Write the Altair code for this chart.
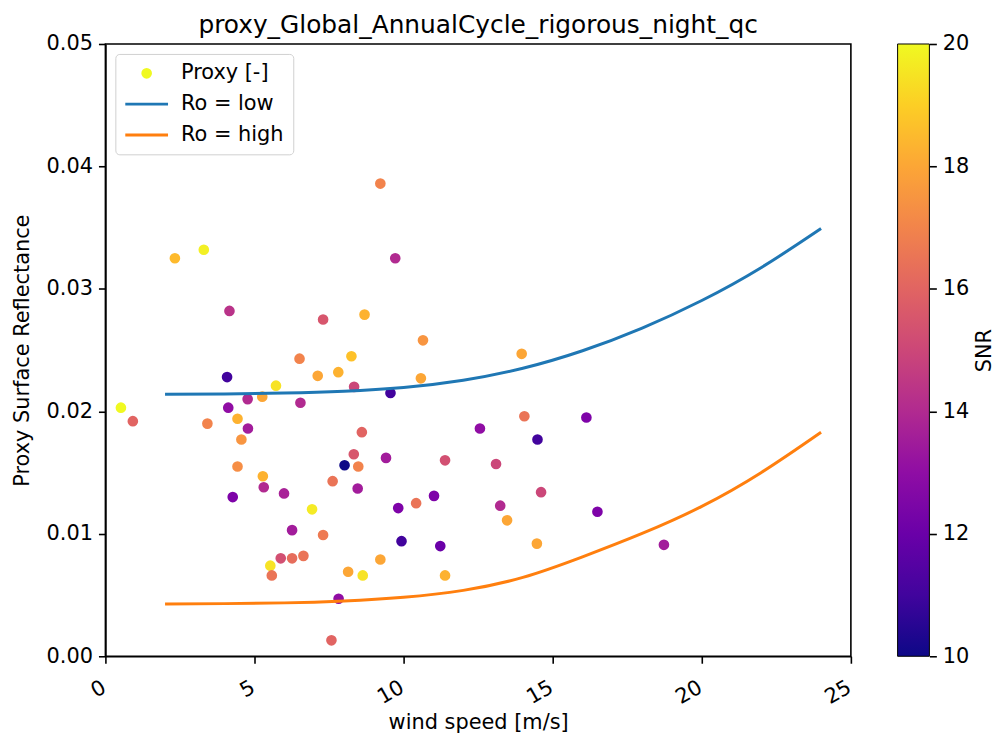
import altair as alt
import pandas as pd

FONT = "DejaVu Sans"
FS = 21

# scatter data (wind speed, proxy reflectance, SNR)
wind = [0.52, 0.92, 2.33, 3.30, 3.42, 4.16, 4.08, 4.12, 4.77, 5.26,
        5.72, 4.43, 4.78, 4.56, 4.43, 5.28, 5.31, 5.99, 4.27, 6.51,
        6.54, 7.12, 7.30, 7.81, 8.25, 8.34, 8.69, 9.22, 9.72, 10.65,
        10.58, 9.56, 13.96, 14.05, 12.56, 14.49, 16.13, 8.60, 8.33, 8.48,
        8.02, 9.41, 11.39, 13.10, 7.62, 8.46, 11.02, 14.61, 9.82, 10.42,
        13.24, 13.47, 16.50, 6.93, 6.26, 7.30, 9.93, 11.23, 14.47, 18.73,
        5.88, 6.26, 6.64, 5.53, 5.58, 8.14, 8.63, 9.22, 11.39, 7.82, 7.58]
proxy = [0.0203, 0.0192, 0.0325, 0.0332, 0.0190, 0.0282, 0.0228, 0.0203, 0.0210, 0.0212,
         0.0221, 0.0194, 0.0186, 0.0177, 0.0155, 0.0147, 0.0138, 0.0133, 0.0130, 0.0243,
         0.0207, 0.0229, 0.0275, 0.0232, 0.0245, 0.0220, 0.0279, 0.0386, 0.0325, 0.0258,
         0.0227, 0.0215, 0.0247, 0.0196, 0.0186, 0.0177, 0.0195, 0.0183, 0.0165, 0.0155,
         0.0156, 0.0162, 0.0160, 0.0157, 0.0143, 0.0137, 0.0131, 0.0134, 0.0121, 0.0125,
         0.0123, 0.0111, 0.0118, 0.0120, 0.0103, 0.0099, 0.0094, 0.0090, 0.0092, 0.0091,
         0.0080, 0.0080, 0.0082, 0.0074, 0.0066, 0.0069, 0.0066, 0.0079, 0.0066, 0.0047, 0.0013]
snr = [20.0, 16.0, 18.5, 19.8, 17.0, 14.3, 11.0, 13.0, 14.0, 18.0,
       19.5, 18.3, 13.5, 17.5, 17.3, 18.3, 14.0, 13.7, 12.5, 17.0,
       14.0, 18.0, 15.5, 18.3, 18.7, 15.0, 18.3, 17.0, 14.0, 17.5,
       18.0, 11.0, 18.0, 16.5, 13.0, 11.0, 12.5, 16.0, 15.5, 17.0,
       10.0, 13.5, 15.3, 15.0, 16.5, 13.5, 12.5, 15.0, 12.5, 16.5,
       14.0, 18.0, 12.5, 19.7, 13.5, 16.7, 11.0, 12.0, 18.0, 13.5,
       15.3, 16.3, 16.5, 19.5, 16.5, 18.0, 19.5, 18.0, 18.3, 13.0, 16.0]

# model curves
line_wind = [2, 4, 6, 8, 10, 12, 14, 16, 18, 20, 22, 24]
ro_low = [0.02140, 0.02142, 0.02150, 0.02165, 0.02195, 0.02254,
          0.02352, 0.02495, 0.02680, 0.02905, 0.03175, 0.03493]
ro_high = [0.00427, 0.00430, 0.00436, 0.00452, 0.00482, 0.00538,
           0.00644, 0.00812, 0.01003, 0.01224, 0.01501, 0.01829]

series_names = ["Proxy [-]", "Ro = low", "Ro = high"]
series_colors = ["#f0f921", "#1f77b4", "#ff7f0e"]

# colorbar
snr_range = [10, 20]
snr_ticks = [10, 12, 14, 16, 18, 20]
plasma_stops = ["#0d0887", "#41049d", "#6a00a8", "#8f0da4", "#b12a90", "#cc4778",
                "#e16462", "#f2844b", "#fca636", "#fcce25", "#f0f921"]

pts = pd.DataFrame({"wind": wind, "proxy": proxy, "snr": snr})
lines = pd.DataFrame({
    "wind": line_wind + line_wind,
    "value": ro_low + ro_high,
    "series": ["Ro = low"] * len(line_wind) + ["Ro = high"] * len(line_wind),
})
cb = pd.DataFrame({"lo": [snr_range[0]], "hi": [snr_range[1]]})

xscale = alt.Scale(domain=[0, 25], nice=False)
yscale = alt.Scale(domain=[0, 0.05], nice=False)

xaxis = alt.Axis(title="wind speed [m/s]", values=[0, 5, 10, 15, 20, 25], format="d",
                 labelAngle=330, labelAlign="right", labelBaseline="top",
                 labelPadding=13, labelOffset=-7, titlePadding=4, grid=False)
yaxis = alt.Axis(title="Proxy Surface Reflectance", values=[0, 0.01, 0.02, 0.03, 0.04, 0.05],
                 format=".2f", titlePadding=14, grid=False)

is_proxy = "datum.value === 'Proxy [-]'"

points = alt.Chart(pts).mark_circle(size=115, opacity=1).encode(
    x=alt.X("wind:Q", scale=xscale, axis=xaxis),
    y=alt.Y("proxy:Q", scale=yscale, axis=yaxis),
    color=alt.Color("snr:Q", scale=alt.Scale(scheme="plasma", domain=snr_range, clamp=True),
                    legend=None),
)

curves = alt.Chart(lines).mark_line(strokeWidth=3, interpolate="natural").encode(
    x=alt.X("wind:Q", scale=xscale),
    y=alt.Y("value:Q", scale=yscale, axis=yaxis),
    stroke=alt.Stroke(
        "series:N",
        scale=alt.Scale(domain=series_names, range=series_colors),
        legend=alt.Legend(
            title=None, orient="top-left", offset=10, padding=9,
            labelFontSize=FS, labelFont=FONT, labelColor="black",
            symbolType={"expr": f"{is_proxy} ? 'circle' : 'stroke'"},
            symbolSize={"expr": f"{is_proxy} ? 115 : 1849"},
            symbolFillColor={"expr": f"{is_proxy} ? '#f0f921' : 'transparent'"},
            symbolStrokeWidth={"expr": f"{is_proxy} ? 0 : 3"},
            symbolOffset=12, labelOffset=24, rowPadding=9,
            strokeColor="#d0d0d0", fillColor="white", cornerRadius=4,
        ),
    ),
)

gradient = alt.LinearGradient(
    gradient="linear", x1=0, x2=0, y1=1, y2=0,
    stops=[alt.GradientStop(offset=i / (len(plasma_stops) - 1), color=c)
           for i, c in enumerate(plasma_stops)],
)

colorbar = alt.Chart(cb).mark_rect(fill=gradient, stroke="black", strokeWidth=1).encode(
    x=alt.value(797), x2=alt.value(829),
    y=alt.Y("lo:Q", scale=alt.Scale(domain=snr_range, nice=False),
            axis=alt.Axis(orient="right", offset=79, values=snr_ticks, format="d",
                          title="SNR", titleAngle=270, titlePadding=26,
                          domain=False, grid=False)),
    y2="hi:Q",
)

chart = alt.layer(alt.layer(points, curves), colorbar).resolve_scale(y="independent").properties(
    width=750, height=616,
    title=alt.Title("proxy_Global_AnnualCycle_rigorous_night_qc", fontSize=25, font=FONT,
                    fontWeight="normal", color="black", anchor="middle", offset=-25,
                    baseline="alphabetic"),
    padding={"left": 98, "top": 34, "right": 146, "bottom": 78},
    autosize=alt.AutoSizeParams(type="none"),
).configure_view(stroke="black", strokeWidth=1.6).configure_axis(
    labelFont=FONT, labelFontSize=FS, labelColor="black", labelPadding=6,
    titleFont=FONT, titleFontSize=FS, titleFontWeight="normal", titleColor="black",
    tickColor="black", tickSize=7, tickWidth=1.6, domainColor="black", domainWidth=1.6,
)

chart.save("out.html", embed_options={"renderer": "svg", "actions": False})
